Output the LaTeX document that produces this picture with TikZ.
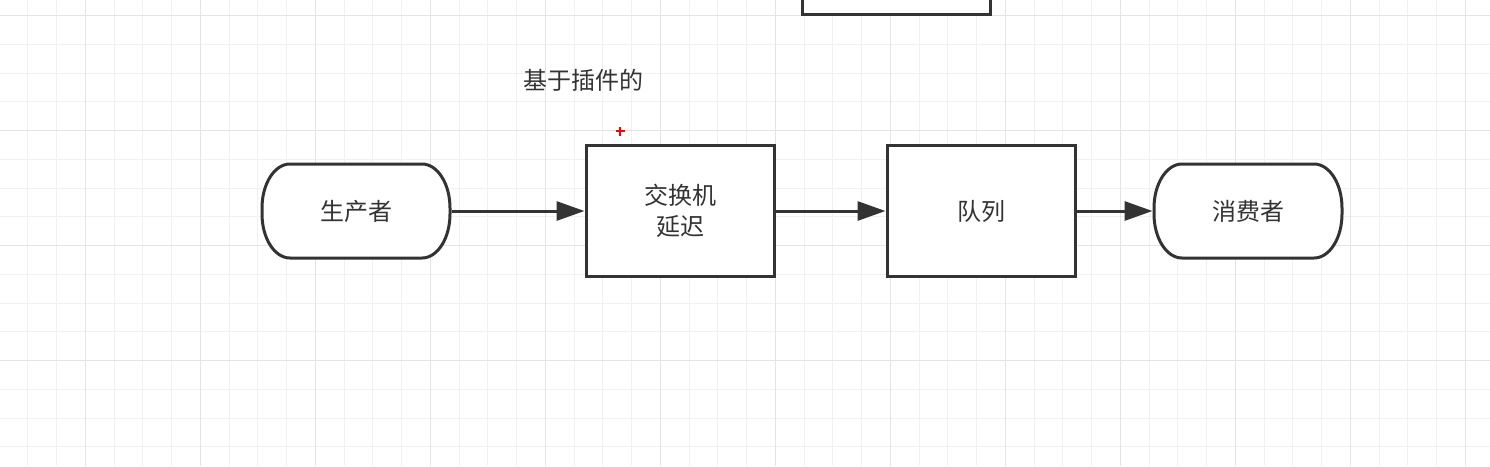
\documentclass[tikz,border=0pt]{standalone}
\usepackage{fontspec}
\newfontfamily\cjk{Noto Sans CJK SC}
\usetikzlibrary{arrows.meta}
\definecolor{ink}{HTML}{333333}
\definecolor{gridminor}{HTML}{F1F1F1}
\definecolor{gridmajor}{HTML}{E4E4E4}
\tikzset{
  x=1pt, y=-1pt,
  minorline/.style={draw=gridminor, line width=1pt},
  majorline/.style={draw=gridmajor, line width=1.3pt},
  label/.style={text=ink, font=\cjk\fontsize{24}{31}\selectfont, align=center, inner sep=0pt},
  shapebase/.style={draw=ink, fill=white, line width=3pt, minimum width=188pt, label},
  termbox/.style={label, minimum width=188pt, minimum height=94pt, outer sep=0pt},
  termline/.style={draw=ink, fill=white, line width=3pt},
  procbox/.style={shapebase, minimum height=131pt},
  flow/.style={draw=ink, line width=3pt, -{Triangle[length=28pt,width=19pt]}},
}
\newcommand\termoutline[1]{%
  \path[termline] ([xshift=28pt]#1.north west) -- ([xshift=-28pt]#1.north east)
    arc[start angle=90,end angle=0,x radius=28pt,y radius=44pt]
    -- ([yshift=44pt]#1.south east)
    arc[start angle=0,end angle=-90,x radius=28pt,y radius=44pt]
    -- ([xshift=28pt]#1.south west)
    arc[start angle=270,end angle=180,x radius=28pt,y radius=44pt]
    -- ([yshift=-44pt]#1.north west)
    arc[start angle=180,end angle=90,x radius=28pt,y radius=44pt] -- cycle;}
\begin{document}
\begin{tikzpicture}
\clip (0,0) rectangle (1490,466);
\fill[white] (0,0) rectangle (1490,466);
% grid
\foreach \i in {1,...,52} {\draw[minorline] ({-0.9+28.75*\i},0) -- ({-0.9+28.75*\i},466);}
\foreach \i in {0,...,15} {\draw[minorline] (0,{15.7+28.75*\i}) -- (1490,{15.7+28.75*\i});}
\foreach \i in {0,...,12} {\draw[majorline] ({85.3+115*\i},0) -- ({85.3+115*\i},466);}
\foreach \i in {0,...,3} {\draw[majorline] (0,{15.7+115*\i}) -- (1490,{15.7+115*\i});}
% top partial box
\node[procbox] (topbox) at (896,-51.5) {};
% terminator outlines (drawn behind their labels)
\node[termbox] (prod) at (356,211) {};
\node[termbox] (cons) at (1248,211) {};
\termoutline{prod}
\termoutline{cons}
\node[label] (prodtxt) at (prod.center) {生产者};
\node[label] (constxt) at (cons.center) {消费者};
% boxes
\node[procbox] (exch) at (680,211) {交换机\\延迟};
\node[procbox] (queue) at (981,211) {队列};
\node[label, anchor=west] (note) at (523,80) {基于插件的};
% red marker
\coordinate (mark) at (620,131);
\draw[red, line width=1.5pt] ([xshift=-4.5pt]mark) -- ([xshift=4.5pt]mark);
\draw[red, line width=1.5pt] ([yshift=-4.5pt]mark) -- ([yshift=4.5pt]mark);
% connectors
\draw[flow] ([xshift=1.5pt]prod.east) -- (exch.west);
\draw[flow] (exch.east) -- (queue.west);
\draw[flow] (queue.east) -- ([xshift=-1.5pt]cons.west);
\end{tikzpicture}
\end{document}
